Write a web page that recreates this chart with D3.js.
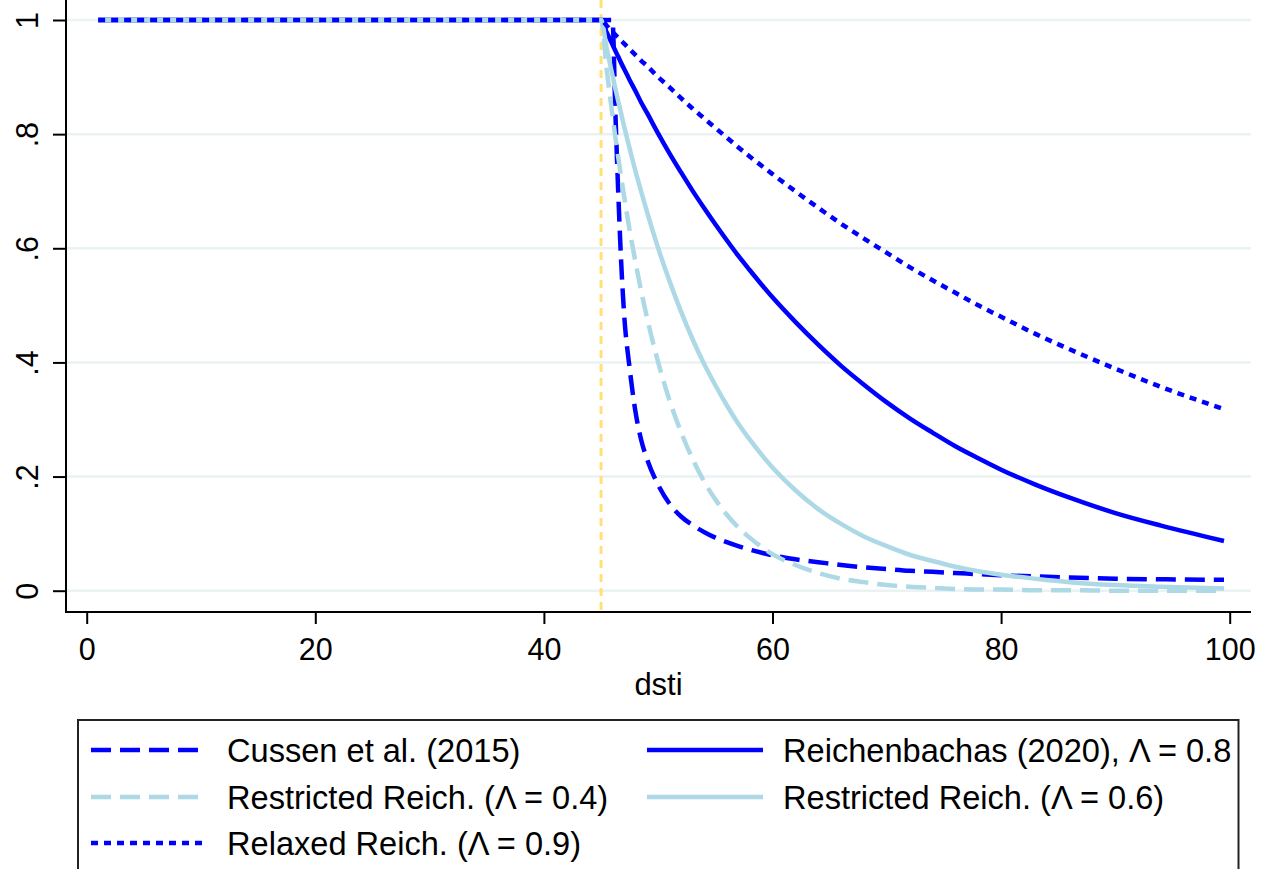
<!DOCTYPE html>
<html>
<head>
<meta charset="utf-8">
<script src="https://cdn.jsdelivr.net/npm/d3@7"></script>
<style>
  html, body { margin: 0; padding: 0; background: #fff; }
  svg { display: block; font-family: "Liberation Sans", Arial, sans-serif; }
</style>
</head>
<body>
<svg id="chart" width="1261" height="869"></svg>
<script>
// Debt-service-to-income threshold (dsti) grid and the share curves drawn on it
const dsti = [1, 45, 45.5, 46, 46.25, 46.5, 46.75, 47, 47.5, 48, 48.5, 49, 50, 51, 52, 53, 54, 55, 56, 57, 58,
  60, 62, 64, 66, 68, 70, 72, 74, 76, 78, 80, 83, 86, 90, 94, 99.5];

const cussen = [1, 1, 1, 1, 0.84, 0.70, 0.58, 0.49, 0.39, 0.315, 0.265, 0.232, 0.185, 0.152, 0.13, 0.115, 0.103, 0.093, 0.085, 0.078, 0.072,
  0.062, 0.055, 0.05, 0.045, 0.041, 0.038, 0.035, 0.033, 0.031, 0.029, 0.027, 0.025, 0.023, 0.021, 0.02, 0.019];

const reich08 = [1, 1, 0.978, 0.957, 0.946, 0.936, 0.925, 0.915, 0.895, 0.876, 0.856, 0.838, 0.801, 0.766, 0.733, 0.701, 0.671, 0.642, 0.614, 0.587, 0.562,
  0.514, 0.471, 0.431, 0.394, 0.361, 0.330, 0.302, 0.277, 0.253, 0.232, 0.212, 0.186, 0.163, 0.136, 0.114, 0.087];

const restricted04 = [1, 1, 0.912, 0.833, 0.795, 0.760, 0.726, 0.693, 0.632, 0.577, 0.526, 0.480, 0.400, 0.333, 0.278, 0.231, 0.192, 0.160, 0.133, 0.111, 0.093,
  0.064, 0.045, 0.031, 0.021, 0.015, 0.010, 0.007, 0.005, 0.003, 0.002, 0.002, 0.001, 0.001, 0, 0, 0];

const restricted06 = [1, 1, 0.950, 0.903, 0.880, 0.858, 0.837, 0.815, 0.775, 0.736, 0.700, 0.665, 0.600, 0.542, 0.489, 0.441, 0.398, 0.360, 0.325, 0.293, 0.265,
  0.216, 0.176, 0.143, 0.117, 0.095, 0.078, 0.063, 0.052, 0.042, 0.034, 0.028, 0.021, 0.015, 0.010, 0.007, 0.004];

const relaxed09 = [1, 1, 0.990, 0.979, 0.974, 0.969, 0.964, 0.959, 0.949, 0.939, 0.929, 0.920, 0.900, 0.882, 0.863, 0.845, 0.828, 0.811, 0.794, 0.777, 0.761,
  0.730, 0.700, 0.671, 0.643, 0.617, 0.592, 0.567, 0.544, 0.522, 0.500, 0.480, 0.450, 0.423, 0.389, 0.357, 0.318];

const thresholdDsti = 45;

const xTicks = [0, 20, 40, 60, 80, 100];
const yTicks = [0, 0.2, 0.4, 0.6, 0.8, 1];
const yTickLabels = ["0", ".2", ".4", ".6", ".8", "1"];
const xTitle = "dsti";

const seriesNames = ["Cussen et al. (2015)", "Reichenbachas (2020), \u039B = 0.8",
  "Restricted Reich. (\u039B = 0.4)", "Restricted Reich. (\u039B = 0.6)", "Relaxed Reich. (\u039B = 0.9)"];

// Series in drawing order (later ones sit on top)
const BLUE = "#0000ff", LIGHT = "#add8e6";
const series = [
  { name: seriesNames[0], values: cussen, color: BLUE, dash: "20,9" },
  { name: seriesNames[1], values: reich08, color: BLUE, dash: null },
  { name: seriesNames[2], values: restricted04, color: LIGHT, dash: "20,9" },
  { name: seriesNames[3], values: restricted06, color: LIGHT, dash: null },
  { name: seriesNames[4], values: relaxed09, color: BLUE, dash: "7,6" }
];

const svg = d3.select("#chart");
svg.append("rect").attr("width", 1261).attr("height", 869).attr("fill", "#fff");

const plotLeft = 66, plotRight = 1251, axisY = 612;
const x = d3.scaleLinear().domain([0, 100]).range([86.7, 1229.7]);
const y = d3.scaleLinear().domain([0, 1]).range([590.7, 20]);

// Horizontal grid
svg.append("g").selectAll("line").data(yTicks).join("line")
  .attr("x1", plotLeft).attr("x2", plotRight)
  .attr("y1", d => y(d)).attr("y2", d => y(d))
  .attr("stroke", "#eaf2f3").attr("stroke-width", 2.5);

// Threshold marker
svg.append("line")
  .attr("x1", x(thresholdDsti)).attr("x2", x(thresholdDsti))
  .attr("y1", 0).attr("y2", axisY - 1)
  .attr("stroke", "#ffe07a").attr("stroke-width", 3)
  .attr("stroke-dasharray", "8,6");

// Curves
const line = d3.line()
  .x((d, i) => x(dsti[i]))
  .y(d => y(d))
  .curve(d3.curveMonotoneX);

svg.append("g").selectAll("path").data(series).join("path")
  .attr("d", s => line(s.values))
  .attr("fill", "none")
  .attr("stroke", s => s.color)
  .attr("stroke-width", 4.5)
  .attr("stroke-dasharray", s => s.dash)
  .attr("stroke-linejoin", "round");

// X axis
const xAxis = svg.append("g")
  .attr("transform", `translate(0,${axisY})`)
  .call(d3.axisBottom(x).tickValues(xTicks).tickSize(12).tickPadding(14).tickFormat(d3.format("d")));
xAxis.select(".domain").remove();
xAxis.selectAll(".tick line").attr("stroke", "#000").attr("stroke-width", 2);
xAxis.selectAll(".tick text")
  .attr("fill", "#000").attr("font-size", 30.5)
  .attr("font-family", "Liberation Sans, Arial, sans-serif");
svg.append("line").attr("x1", plotLeft - 1).attr("x2", plotRight)
  .attr("y1", axisY).attr("y2", axisY)
  .attr("stroke", "#000").attr("stroke-width", 2);

// Y axis
const yAxis = svg.append("g")
  .attr("transform", `translate(${plotLeft},0)`)
  .call(d3.axisLeft(y).tickValues(yTicks).tickSize(13).tickFormat(""));
yAxis.select(".domain").remove();
yAxis.selectAll(".tick line").attr("stroke", "#000").attr("stroke-width", 2);
yAxis.selectAll(".tick text").remove();
yAxis.selectAll(".tick").append("text")
  .attr("transform", "translate(-28,0) rotate(-90)")
  .attr("text-anchor", "middle")
  .attr("fill", "#000").attr("font-size", 30.5)
  .text((d, i) => yTickLabels[i]);
svg.append("line").attr("x1", plotLeft).attr("x2", plotLeft)
  .attr("y1", 0).attr("y2", axisY + 1)
  .attr("stroke", "#000").attr("stroke-width", 2);

// Axis title
svg.append("text")
  .attr("x", (plotLeft + plotRight) / 2).attr("y", 695)
  .attr("text-anchor", "middle").attr("font-size", 31).attr("fill", "#000")
  .text(xTitle);

// Legend
const legend = svg.append("g");
legend.append("rect")
  .attr("x", 78).attr("y", 720).attr("width", 1160.5).attr("height", 200)
  .attr("fill", "#fff").attr("stroke", "#222").attr("stroke-width", 2);

const legendLayout = [
  { s: series[0], col: 0, row: 0 },
  { s: series[1], col: 1, row: 0 },
  { s: series[2], col: 0, row: 1 },
  { s: series[3], col: 1, row: 1 },
  { s: series[4], col: 0, row: 2 }
];
const colX = [91, 647], rowY = [750, 797, 843];
const items = legend.selectAll("g.item").data(legendLayout).join("g")
  .attr("class", "item")
  .attr("transform", d => `translate(${colX[d.col]},${rowY[d.row]})`);
items.append("line")
  .attr("x1", 0).attr("x2", 116).attr("y1", 0).attr("y2", 0)
  .attr("stroke", d => d.s.color).attr("stroke-width", 4.5)
  .attr("stroke-dasharray", d => d.s.dash);
items.append("text")
  .attr("x", 136).attr("y", 11.5)
  .attr("font-size", 32.6).attr("fill", "#000")
  .text(d => d.s.name);
</script>
</body>
</html>
